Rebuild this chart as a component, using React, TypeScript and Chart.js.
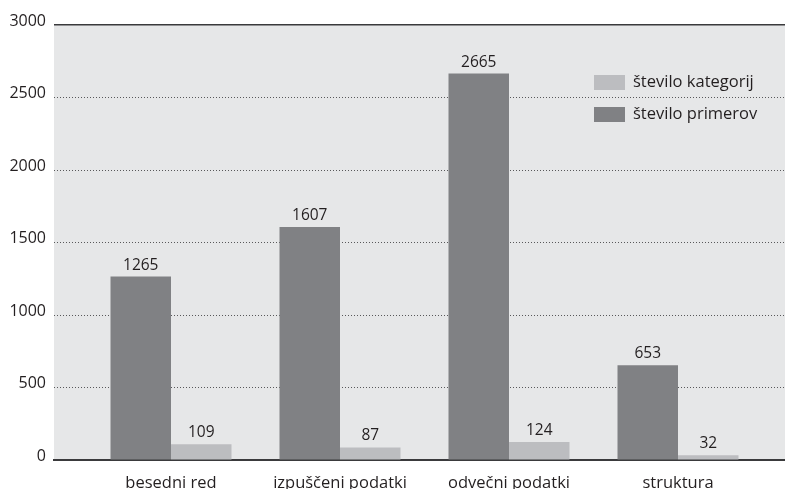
import React, { useEffect, useRef } from "react";
import { Chart, registerables } from "chart.js";

Chart.register(...registerables);

const categories = ["besedni red", "izpuščeni podatki", "odvečni podatki", "struktura"];
const primeroviValues = [1265, 1607, 2665, 653];
const kategorijeValues = [109, 87, 124, 32];
const seriesLabels = ["število primerov", "število kategorij"];
const yTicks = [0, 500, 1000, 1500, 2000, 2500, 3000];

const FONT = "'Open Sans', sans-serif";
const TEXT = "#231f20";
const DARK = "#808184";
const LIGHT = "#bcbdc0";
const BG = "#e6e7e8";

const bgPlugin = {
  id: "bgPlugin",
  beforeDraw(chart: any) {
    const { ctx, chartArea } = chart;
    ctx.save();
    ctx.fillStyle = BG;
    ctx.fillRect(chartArea.left, chartArea.top, chartArea.right - chartArea.left, chartArea.bottom - chartArea.top);
    ctx.restore();
  },
};

const valueLabelPlugin = {
  id: "valueLabelPlugin",
  afterDatasetsDraw(chart: any) {
    const { ctx } = chart;
    ctx.save();
    ctx.font = `15.5px ${FONT}`;
    ctx.fillStyle = TEXT;
    ctx.textAlign = "center";
    ctx.textBaseline = "alphabetic";
    chart.data.datasets.forEach((ds: any, di: number) => {
      const meta = chart.getDatasetMeta(di);
      meta.data.forEach((el: any, i: number) => {
        ctx.fillText(String(ds.data[i]), el.x, el.y - 7);
      });
    });
    ctx.restore();
  },
};

const customLegendPlugin = {
  id: "customLegendPlugin",
  afterDraw(chart: any) {
    const { ctx, chartArea } = chart;
    const items = chart.data.datasets.map((ds: any) => ({ label: ds.label, color: ds.backgroundColor })).reverse();
    ctx.save();
    ctx.font = `16.5px ${FONT}`;
    ctx.textBaseline = "middle";
    ctx.textAlign = "left";
    const x0 = chartArea.right - 191;
    const y0 = chartArea.top + 57;
    items.forEach((it: any, i: number) => {
      const cy = y0 + i * 32;
      ctx.fillStyle = it.color;
      ctx.fillRect(x0, cy - 7, 31, 15);
      ctx.fillStyle = TEXT;
      ctx.fillText(it.label, x0 + 39, cy);
    });
    ctx.restore();
  },
};

export default function App() {
  const canvasRef = useRef<HTMLCanvasElement | null>(null);

  useEffect(() => {
    if (!canvasRef.current) return;
    const chart = new Chart(canvasRef.current, {
      type: "bar",
      data: {
        labels: categories,
        datasets: [
          {
            label: seriesLabels[0],
            data: primeroviValues,
            backgroundColor: DARK,
            barPercentage: 1,
            categoryPercentage: 0.716,
          },
          {
            label: seriesLabels[1],
            data: kategorijeValues,
            backgroundColor: LIGHT,
            barPercentage: 1,
            categoryPercentage: 0.716,
          },
        ],
      },
      options: {
        animation: false,
        responsive: true,
        maintainAspectRatio: false,
        layout: { padding: { top: 25, right: 0, left: 0, bottom: 0 } },
        plugins: {
          legend: { display: false },
          tooltip: { enabled: false },
        },
        scales: {
          x: {
            grid: { display: false, drawTicks: false },
            border: { display: true, color: "#3a3a3c", width: 2 },
            ticks: {
              color: TEXT,
              font: { family: FONT, size: 16.5 },
              padding: 13,
              maxRotation: 0,
              autoSkip: false,
            },
            afterFit(scale: any) {
              scale.height = 29;
            },
            afterBuildTicks(scale: any) {
              scale._startValue = -0.6923;
              scale._valueRange = 4.3254;
            },
          },
          y: {
            min: 0,
            max: 3000,
            afterBuildTicks(scale: any) {
              scale.ticks = yTicks.map((v) => ({ value: v }));
            },
            ticks: {
              color: TEXT,
              font: { family: FONT, size: 16 },
              padding: 8,
              labelOffset: -4,
              callback: (v: any) => String(v),
            },
            grid: {
              drawTicks: false,
              color: (ctx: any) => (ctx.tick && (ctx.tick.value === 3000 || ctx.tick.value === 0) ? "#3a3a3c" : "#58585a"),
              lineWidth: (ctx: any) => (ctx.tick && ctx.tick.value === 3000 ? 1.6 : 1),
            },
            border: {
              display: false,
              dash: (ctx: any) => (ctx.tick && (ctx.tick.value === 3000 || ctx.tick.value === 0) ? [] : [1, 2]),
            },
            afterFit(scale: any) {
              scale.width = 54;
            },
          },
        },
      },
      plugins: [bgPlugin, valueLabelPlugin, customLegendPlugin],
    } as any);
    return () => chart.destroy();
  }, []);

  return (
    <div style={{ position: "absolute", left: 0, top: 0, width: 785, height: 489 }}>
      <canvas ref={canvasRef} />
    </div>
  );
}
